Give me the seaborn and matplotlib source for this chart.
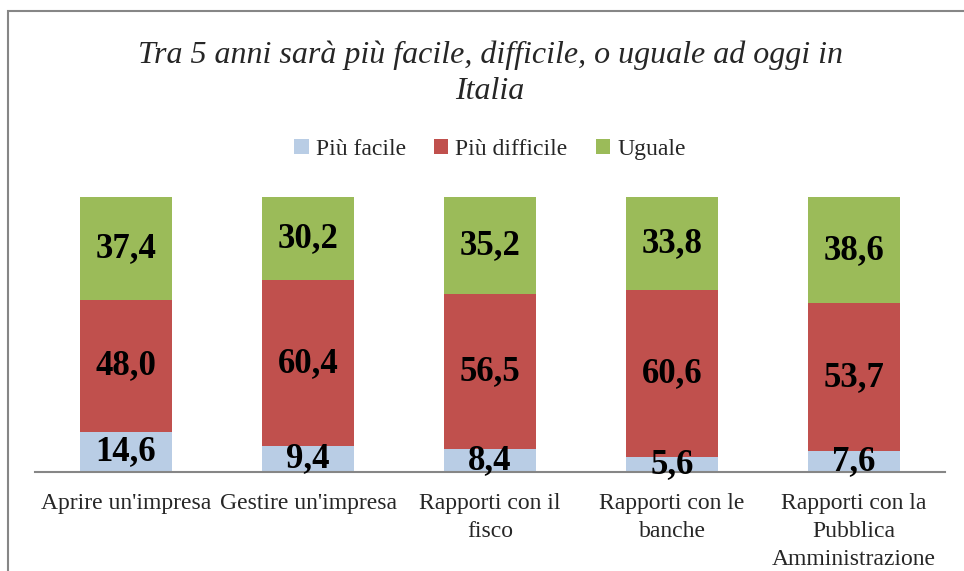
import numpy as np
import pandas as pd
import seaborn as sns
import matplotlib.pyplot as plt
from matplotlib.patches import Rectangle

categories = ["Aprire un'impresa", "Gestire un'impresa", "Rapporti con il\nfisco",
              "Rapporti con le\nbanche", "Rapporti con la\nPubblica\nAmministrazione"]
piu_facile = [14.6, 9.4, 8.4, 5.6, 7.6]
piu_difficile = [48.0, 60.4, 56.5, 60.6, 53.7]
uguale = [37.4, 30.2, 35.2, 33.8, 38.6]

series_names = ["Più facile", "Più difficile", "Uguale"]
colors = ["#B9CDE5", "#C0504D", "#9BBB59"]

df = pd.DataFrame({"cat": categories, "facile": piu_facile,
                   "difficile": piu_difficile, "uguale": uguale})
df["low"] = df["facile"]
df["mid"] = df["facile"] + df["difficile"]
df["top"] = df["mid"] + df["uguale"]

sns.set_style("white")
plt.rcParams["font.family"] = ["Liberation Serif", "DejaVu Serif"]

fig = plt.figure(figsize=(9.64, 5.71), dpi=100)
ax = fig.add_axes([35 / 964, (571 - 472) / 571, 910 / 964, 275 / 571])

# stacked bars: draw cumulative totals from the top layer down
for col, name, c in zip(["top", "mid", "low"], series_names[::-1], colors[::-1]):
    sns.barplot(data=df, x="cat", y=col, color=c, width=0.51, label=name,
                saturation=1, ax=ax, linewidth=0)

# value labels in the middle of each segment
for i in range(len(categories)):
    bottoms = [0, df["low"][i], df["mid"][i]]
    vals = [piu_facile[i], piu_difficile[i], uguale[i]]
    for b, v in zip(bottoms, vals):
        ax.text(i, b + v / 2, f"{v:.1f}".replace(".", ","), ha="center", va="center",
                fontsize=25, fontweight="bold", color="black", zorder=10, clip_on=False)

ax.set_ylim(0, 100)
ax.set_xlim(-0.5, len(categories) - 0.5)
ax.set_xlabel("")
ax.set_ylabel("")
ax.set_yticks([])
ax.tick_params(axis="x", length=0, pad=15, labelsize=17)
for s in ["left", "right", "top"]:
    ax.spines[s].set_visible(False)
ax.spines["bottom"].set_color("#868686")
ax.spines["bottom"].set_linewidth(1.5)
ax.spines["bottom"].set_zorder(5)
for lbl in ax.get_xticklabels():
    lbl.set_linespacing(1.45)

handles, labels = ax.get_legend_handles_labels()
order = [labels.index(n) for n in series_names]
ax.legend([handles[k] for k in order], series_names, loc="center",
          bbox_to_anchor=(0.5, 1.172), ncol=3, frameon=False, fontsize=17,
          handlelength=0.6, handleheight=0.6, handletextpad=0.3, columnspacing=1.2)

ax.text(0.5, 1.45, "Tra 5 anni sarà più facile, difficile, o uguale ad oggi in\nItalia",
        transform=ax.transAxes, ha="center", va="center", fontsize=23,
        fontstyle="italic", linespacing=1.3)

# chart frame (only left and top edges fall inside the image)
fig.patches.append(Rectangle((8 / 964, -0.2), 1.2, (571 - 11) / 571 + 0.2,
                             transform=fig.transFigure, fill=False,
                             edgecolor="#868686", linewidth=1.5))

fig.savefig("out.png", dpi=100)
